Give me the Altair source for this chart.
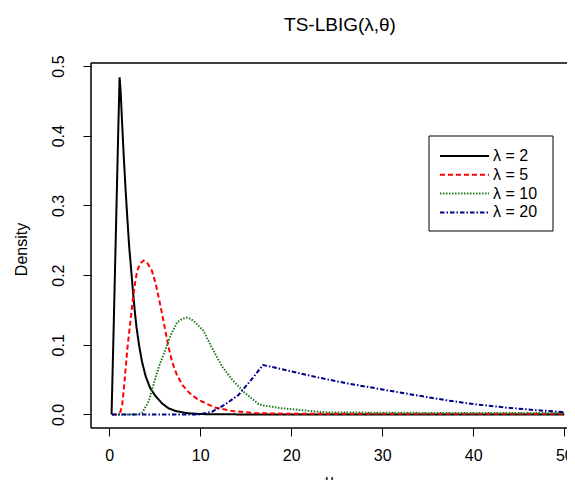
import altair as alt
import pandas as pd

# ---- data ----
u_l2 = [0.26, 0.5, 0.75, 1.0, 1.14, 1.25, 1.43, 1.6, 1.79, 2.0, 2.2, 2.4, 2.6, 2.8, 3.0, 3.3, 3.6, 4.0, 4.5, 5.05, 5.8, 6.5, 7.3, 8.5, 10.0, 12.0, 20.0, 50.0]
d_l2 = [0.0, 0.13, 0.27, 0.41, 0.484, 0.465, 0.415, 0.37, 0.325, 0.28, 0.24, 0.21, 0.178, 0.15, 0.125, 0.098, 0.076, 0.055, 0.038, 0.027, 0.016, 0.009, 0.005, 0.002, 0.0006, 0.0002, 0.0, 0.0]

u_l5 = [0.3, 0.8, 1.24, 1.43, 1.6, 1.8, 2.0, 2.34, 2.6, 2.8, 3.07, 3.4, 3.8, 4.2, 4.7, 5.1, 5.44, 5.8, 6.17, 6.5, 6.9, 7.4, 8.0, 8.8, 9.8, 11.6, 13.5, 16.0, 20.0, 30.0, 50.0]
d_l5 = [0.0, 0.0, 0.004, 0.014, 0.035, 0.065, 0.095, 0.135, 0.165, 0.185, 0.206, 0.217, 0.221, 0.217, 0.206, 0.188, 0.168, 0.145, 0.12, 0.098, 0.076, 0.058, 0.043, 0.031, 0.021, 0.010, 0.005, 0.002, 0.001, 0.001, 0.001]

u_l10 = [0.3, 3.0, 3.6, 4.34, 5.07, 5.5, 5.98, 6.7, 7.44, 8.0, 8.5, 9.0, 9.45, 10.36, 11.27, 12.4, 13.5, 14.9, 16.4, 16.9, 18.9, 22.5, 24.0, 30.0, 40.0, 50.0]
d_l10 = [0.0, 0.0, 0.002, 0.019, 0.052, 0.07, 0.086, 0.112, 0.132, 0.137, 0.139, 0.137, 0.132, 0.12, 0.096, 0.069, 0.05, 0.031, 0.015, 0.013, 0.009, 0.0045, 0.003, 0.0025, 0.002, 0.002]

u_l20 = [0.3, 5.0, 9.8, 11.3, 12.7, 14.2, 15.3, 16.0, 16.9, 20.0, 23.0, 26.2, 30.0, 33.5, 37.0, 40.0, 43.5, 46.9, 50.0]
d_l20 = [0.0, 0.0, 0.0, 0.004, 0.014, 0.028, 0.045, 0.056, 0.071, 0.062, 0.053, 0.0445, 0.036, 0.028, 0.0205, 0.015, 0.010, 0.0062, 0.0035]

series_labels = ["λ = 2", "λ = 5", "λ = 10", "λ = 20"]
series_u = [u_l2, u_l5, u_l10, u_l20]
series_d = [d_l2, d_l5, d_l10, d_l20]

x_ticks = [0, 10, 20, 30, 40, 50]
y_ticks = [0.0, 0.1, 0.2, 0.3, 0.4, 0.5]

title_text = "TS-LBIG(λ,θ)"
x_title = "u"
y_title = "Density"

# ---- styles ----
colors = ["#000000", "#FF0000", "#1F7A1F", "#00008B"]
dashes = [[1, 0], [5, 3], [1.5, 1.5], [4.5, 2, 1.5, 2]]
FONT = "Liberation Sans"

frames = []
for lab, us, ds in zip(series_labels, series_u, series_d):
    frames.append(pd.DataFrame({"u": us, "d": ds, "s": lab}))
df = pd.concat(frames, ignore_index=True)

W, H = 476, 365
xs = alt.Scale(domain=[-2, 50.3], nice=False, zero=False)
ys = alt.Scale(domain=[-0.0194, 0.5044], nice=False, zero=False)

x_axis = alt.Axis(values=x_ticks, format="d", title=x_title, grid=False, domain=False,
                  tickColor="black", tickSize=8, tickWidth=1, labelFontSize=16,
                  labelColor="black", labelPadding=19, labelFlush=False, labelFont=FONT,
                  labelBaseline="middle",
                  titleFontSize=16, titleFontWeight="normal", titleColor="black",
                  titleFont=FONT, titleY=52, titleBaseline="middle")
y_axis = alt.Axis(values=y_ticks, format=".1f", title=y_title, grid=False, domain=False,
                  tickColor="black", tickSize=8, tickWidth=1, labelFontSize=16,
                  labelColor="black", labelPadding=25, labelFlush=False, labelFont=FONT,
                  labelAngle=270, labelAlign="center", labelBaseline="middle",
                  titleFontSize=16, titleFontWeight="normal", titleColor="black",
                  titleFont=FONT, titleAngle=270, titleX=-70, titleY=186,
                  titleAlign="center", titleBaseline="middle")

base = alt.Chart(df).encode(
    x=alt.X("u:Q", scale=xs, axis=x_axis),
    y=alt.Y("d:Q", scale=ys, axis=y_axis),
    order="u:Q",
)

layers = []
for lab, col, dsh in zip(series_labels, colors, dashes):
    layers.append(
        base.transform_filter(alt.datum.s == lab).mark_line(
            color=col, strokeDash=dsh, strokeWidth=2
        )
    )

one = pd.DataFrame({"a": [0]})

# ---- plot frame (top, left, bottom; right edge lies off-page in the reference) ----
frame = [
    alt.Chart(one).mark_rule(color="black", strokeWidth=1.5).encode(
        x=alt.value(0), x2=alt.value(W), y=alt.value(0)),
    alt.Chart(one).mark_rule(color="black", strokeWidth=1.5).encode(
        x=alt.value(0), x2=alt.value(W), y=alt.value(H)),
    alt.Chart(one).mark_rule(color="black", strokeWidth=1.5).encode(
        x=alt.value(0), y=alt.value(0), y2=alt.value(H)),
]

# ---- legend (decoration) ----
box = alt.Chart(one).mark_rect(fill="white", stroke="black", strokeWidth=1).encode(
    x=alt.value(338), x2=alt.value(462), y=alt.value(73), y2=alt.value(168)
)
legend_layers = [box]
row0, row_step = 93, 18.8
for i, (lab, col, dsh) in enumerate(zip(series_labels, colors, dashes)):
    yy = row0 + i * row_step
    legend_layers.append(
        alt.Chart(one).mark_rule(color=col, strokeDash=dsh, strokeWidth=2).encode(
            x=alt.value(349), x2=alt.value(398), y=alt.value(yy)
        )
    )
    legend_layers.append(
        alt.Chart(one).mark_text(text=lab, font=FONT, fontSize=16, align="left",
                                 baseline="middle", color="black").encode(
            x=alt.value(402), y=alt.value(yy)
        )
    )

title_layer = alt.Chart(one).mark_text(text=title_text, font=FONT, fontSize=19,
                                       align="center", baseline="middle",
                                       color="black").encode(
    x=alt.value(249), y=alt.value(-38)
)

chart = alt.layer(*layers, *frame, *legend_layers, title_layer).properties(
    width=W, height=H,
    padding={"left": 83, "top": 55, "right": 0, "bottom": 52},
    autosize=alt.AutoSizeParams(type="none"),
).configure(font=FONT).configure_view(strokeWidth=0)

chart.save("out.html", embed_options={"renderer": "svg", "actions": False})
